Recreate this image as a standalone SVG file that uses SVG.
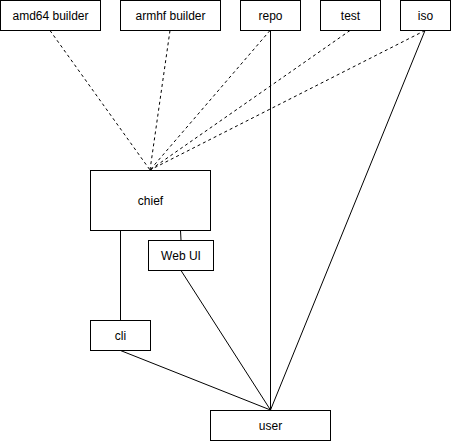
<svg xmlns="http://www.w3.org/2000/svg" width="451" height="441" viewBox="0 0 451 441">
<style>
rect{fill:#fff;stroke:#000;stroke-width:1}
text{font-family:"Liberation Sans",Arial,sans-serif;font-size:12px;fill:#000;text-anchor:middle;dominant-baseline:central}
.c line{stroke:#000;stroke-width:1;fill:none}
.c .d{stroke-dasharray:3 3}
</style>
<rect x="0" y="0" width="451" height="441" style="stroke:none"/>
<g class="c" id="connectors">
<line class="d" x1="50" y1="30.5" x2="150" y2="170"/>
<line class="d" x1="170" y1="30.5" x2="150" y2="170"/>
<line class="d" x1="270" y1="30.5" x2="150" y2="170"/>
<line class="d" x1="350" y1="30.5" x2="150" y2="170"/>
<line class="d" x1="425" y1="30.5" x2="150" y2="170"/>
<line x1="270.5" y1="30.5" x2="270.5" y2="410"/>
<line x1="425" y1="30.5" x2="270.5" y2="410"/>
<line x1="120.5" y1="230.5" x2="120.5" y2="320"/>
<line x1="180.5" y1="230.5" x2="181" y2="240"/>
<line x1="181" y1="270.5" x2="270.5" y2="410"/>
<line x1="120.5" y1="350.5" x2="270.5" y2="410"/>
</g>
<g id="amd64"><rect x="0.5" y="0.5" width="100" height="30"/><text x="50.5" y="15.5">amd64 builder</text></g>
<g id="armhf"><rect x="120.5" y="0.5" width="100" height="30"/><text x="170.5" y="15.5">armhf builder</text></g>
<g id="repo"><rect x="240.5" y="0.5" width="60" height="30"/><text x="270.5" y="15.5">repo</text></g>
<g id="test"><rect x="320.5" y="0.5" width="60" height="30"/><text x="350.5" y="15.5">test</text></g>
<g id="iso"><rect x="400.5" y="0.5" width="50" height="30"/><text x="425.5" y="15.5">iso</text></g>
<g id="chief"><rect x="90.5" y="170.5" width="120" height="60"/><text x="150.5" y="200.5">chief</text></g>
<g id="webui"><rect x="148.5" y="240.5" width="65" height="30"/><text x="181" y="255.5">Web UI</text></g>
<g id="cli"><rect x="90.5" y="320.5" width="60" height="30"/><text x="120.5" y="335.5">cli</text></g>
<g id="user"><rect x="210.5" y="410.5" width="120" height="30"/><text x="270.5" y="425.5">user</text></g>
</svg>
